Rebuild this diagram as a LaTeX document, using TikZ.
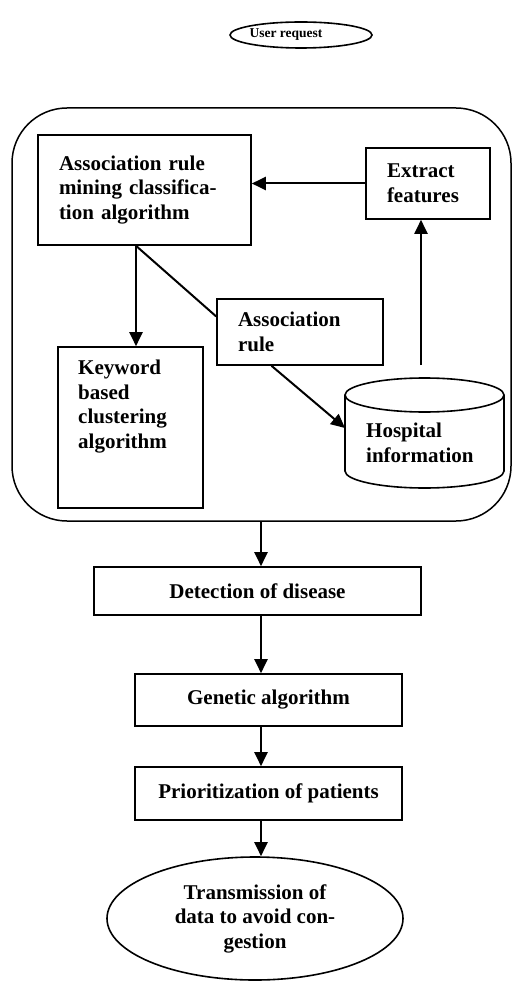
\documentclass[tikz,border=0pt]{standalone}
\usepackage{fontspec}
\setmainfont{Liberation Serif}
\usetikzlibrary{arrows.meta,shapes.geometric,calc}
\begin{document}
\begin{tikzpicture}[x=1pt,y=1pt,
  box/.style={draw,line width=1.6pt,rectangle,inner sep=0pt,font=\fontsize{21}{24.5}\selectfont\bfseries},
  txt/.style={inner sep=0pt,align=left,font=\fontsize{21}{24.5}\selectfont\bfseries},
  oval/.style={draw,line width=1.6pt,ellipse,inner sep=0pt,align=center,font=\fontsize{21}{24.5}\selectfont\bfseries},
  arr/.style={line width=2pt,-{Triangle[length=14pt,width=13pt]}},
  ln/.style={line width=2pt}]
\useasboundingbox (0,0) rectangle (513,-981);
\node[oval,minimum width=142,minimum height=26] (user) at (301,-35) {};
\node[inner sep=0pt,font=\fontsize{13.5}{16}\selectfont\bfseries] (usert) at (286,-35) {User request};
\node[draw,line width=1.5pt,rectangle,rounded corners=55pt,minimum width=499,minimum height=413,inner sep=0pt] (big) at (261.5,-314.5) {};
\node[box,minimum width=213,minimum height=110,text width=171,align=left] (arm) at (144.5,-190) {Association rule\\mining classifica-\\tion algorithm};
\node[box,minimum width=124,minimum height=71,text width=82,align=left] (ext) at (428,-183.5) {Extract\\features};
\node[box,minimum width=166,minimum height=66,text width=124,align=left] (assoc) at (300,-332) {Association\\rule};
\node[box,minimum width=145,minimum height=161] (kw) at (130.5,-427.5) {};
\node[txt,anchor=north west] (kwt) at (78,-360) {Keyword\\based\\clustering\\algorithm};
% cylinder
\draw[line width=1.6pt] (345,-395) -- (345,-471) arc[start angle=180,end angle=360,x radius=79.5,y radius=17] -- (504,-395);
\draw[line width=1.6pt] (424.5,-395) ellipse [x radius=79.5,y radius=17];
\node[txt,anchor=north west] (hosp) at (366,-423) {Hospital\\information};
\coordinate (cylL) at (345,-428);
\coordinate (cylT) at (421,-365);
\node[box,minimum width=327,minimum height=48] (det) at (257.5,-591) {Detection of disease};
\node[box,minimum width=267,minimum height=52] (gen) at (268.5,-700) {Genetic algorithm};
\node[box,minimum width=267,minimum height=53] (pri) at (268.5,-793.5) {Prioritization of patients};
\node[oval,minimum width=296,minimum height=123] (trans) at (255,-918.5) {Transmission of\\data to avoid con-\\gestion};
\coordinate (ax) at (261,0);
\coordinate (kx) at (136,0);
% connectors
\draw[arr] (ext.west) -- (ext.west -| arm.east);
\draw[arr] (cylT) -- (cylT |- ext.south);
\draw[arr] (arm.south -| kx) -- (kw.north -| kx);
\draw[ln] (arm.south -| kx) -- ($(assoc.north west)!0.27!(assoc.south west)$);
\draw[arr] ($(assoc.south west)!0.33!(assoc.south east)$) -- (cylL);
\draw[arr] (big.south -| ax) -- (det.north -| ax);
\draw[arr] (det.south -| ax) -- (gen.north -| ax);
\draw[arr] (gen.south -| ax) -- (pri.north -| ax);
\draw[arr] (pri.south -| ax) -- (trans.north -| ax);
\end{tikzpicture}
\end{document}
